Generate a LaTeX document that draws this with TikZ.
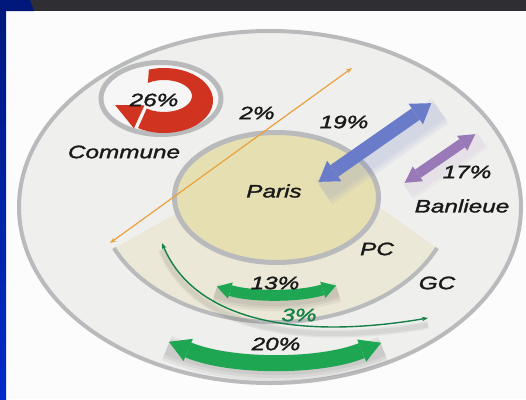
\documentclass[tikz,border=0pt]{standalone}
\usepackage{fontspec}
\newfontfamily\diagfont{Liberation Sans}[FakeStretch=1.35, FakeBold=1.6]
\usetikzlibrary{arrows.meta,calc}

\definecolor{pageWhite}{HTML}{FCFCFC}
\definecolor{barGray}{HTML}{2E2E33}
\definecolor{navyTop}{HTML}{00187C}
\definecolor{blueBot}{HTML}{002BCB}
\definecolor{zoneGray}{HTML}{EFEFED}
\definecolor{ringGray}{HTML}{B9BABB}
\definecolor{parisFill}{HTML}{E6DFB2}
\definecolor{pcBeige}{HTML}{EBE8D7}
\definecolor{communeFill}{HTML}{F6F6F6}
\definecolor{communeRed}{HTML}{D0331F}
\definecolor{arrowBlue}{HTML}{6A7BC9}
\definecolor{arrowPurple}{HTML}{9A79B8}
\definecolor{arrowGreen}{HTML}{1FA652}
\definecolor{darkGreen}{HTML}{178048}
\definecolor{orangeLine}{HTML}{E9A23B}

\tikzset{
  pct/.style={font=\diagfont\itshape\fontsize{18}{18}\selectfont, inner sep=0pt, text=black!90},
  ring/.style={draw=ringGray, line width=4pt},
  fatarrow/.style n args={4}{draw=#1, line width=#2,
    arrows={Triangle[width=#3,length=#4,line width=0pt,sep=2pt]-Triangle[width=#3,length=#4,line width=0pt,sep=2pt]}},
  thinarrow/.style={line width=1.4pt,
    arrows={Stealth[length=6pt,width=4.5pt]-Stealth[length=6pt,width=4.5pt]}},
  softshadow/.style={draw=black, opacity=0.05, transform canvas={yshift=-7pt}}
}

\begin{document}
\begin{tikzpicture}[x=1pt, y=-1pt, line join=round]
  \useasboundingbox (0,0) rectangle (526,399);
  % slide frame
  \fill[pageWhite] (0,0) rectangle (526,399);
  \fill[barGray] (0,0) rectangle (526,11);
  \shade[top color=navyTop, bottom color=blueBot] (0,0) rectangle (6,399);
  \fill[navyTop] (0,0) -- (30,0) -- (34,11) -- (0,11) -- cycle;

  % zones
  \draw[ring, fill=zoneGray] (270,207) ellipse [x radius=251, y radius=176];
  \fill[pcBeige] (115,248) -- (200,200) -- (355,190) -- (437,248)
     arc[start angle=23.9, end angle=156.1, x radius=176.7, y radius=124.5] -- cycle;
  \draw[ring] (437,248) arc[start angle=23.9, end angle=156.1, x radius=176.7, y radius=124.5];
  \draw[ring, line width=5pt, fill=parisFill] (276.5,197.5) ellipse [x radius=102, y radius=65];
  \draw[ring, line width=5pt, fill=communeFill] (161,98.5) ellipse [x radius=60, y radius=36];

  % circular arrow of the commune
  \coordinate (donut) at (164,100.5);
  \coordinate (hole) at (164,96);
  \fill[communeRed] ($(donut)+(-108:49 and 32.5)$)
     arc[start angle=-108, end angle=122, x radius=49, y radius=32.5]
     -- ($(hole)+(128:28 and 16)$)
     arc[start angle=128, end angle=-125, x radius=28, y radius=16] -- cycle;
  \fill[communeRed] (115,105) -- (144.4,105.4) -- (133.9,128.3) -- cycle;

  % flows
  \coordinate (orA) at (110,243);
  \coordinate (orB) at (352,68);
  \draw[thinarrow, draw=orangeLine, line width=1.2pt] (orA) -- (orB);

  \coordinate (blueA) at (317,183);
  \coordinate (blueB) at (433,102);
  \foreach \w in {30,24,18}
    \draw[draw=arrowBlue, opacity=0.07, line width=\w pt, transform canvas={shift={(7pt,-9pt)}}] (blueA) -- (blueB);
  \draw[fatarrow={arrowBlue}{14pt}{25pt}{19pt}] (blueA) -- (blueB);

  \coordinate (purA) at (403,184);
  \coordinate (purB) at (477,133);
  \foreach \w in {20,14}
    \draw[draw=arrowPurple, opacity=0.06, line width=\w pt, transform canvas={shift={(5pt,-7pt)}}] (purA) -- (purB);
  \draw[fatarrow={arrowPurple}{10pt}{18pt}{16pt}] (purA) -- (purB);

  \coordinate (gA) at (215,286);
  \coordinate (gB) at (338,285);
  \foreach \w in {20,15,10}
    \draw[softshadow, line width=\w pt] (gA) .. controls (252,297) and (300,297) .. (gB);
  \draw[fatarrow={arrowGreen}{11pt}{17pt}{14pt}] (gA) .. controls (252,297) and (300,297) .. (gB);

  \coordinate (hA) at (167,341);
  \coordinate (hB) at (383,342);
  \foreach \w in {26,20,14}
    \draw[softshadow, line width=\w pt] (hA) .. controls (230,367.5) and (320,367.5) .. (hB);
  \draw[fatarrow={arrowGreen}{16pt}{24pt}{21pt}] (hA) .. controls (230,367.5) and (320,367.5) .. (hB);

  \coordinate (tA) at (162,243);
  \coordinate (tB) at (428,318);
  \foreach \w in {8,5}
    \draw[softshadow, line width=\w pt] (tA) .. controls (195,322) and (300,340) .. (tB);
  \draw[thinarrow, draw=darkGreen] (tA) .. controls (195,322) and (300,340) .. (tB);

  % labels
  \node[pct] (l26) at (154,100) {26\%};
  \node[pct] (lcommune) at (124,152) {Commune};
  \node[pct] (l2) at (257,113) {2\%};
  \node[pct] (l19) at (344,122) {19\%};
  \node[pct] (lparis) at (274,191) {Paris};
  \node[pct] (l17) at (467,172) {17\%};
  \node[pct] (lbanlieue) at (462,206) {Banlieue};
  \node[pct] (lpc) at (377,249) {PC};
  \node[pct] (lgc) at (437,283) {GC};
  \node[pct] (l13) at (275,283) {13\%};
  \node[pct, text=darkGreen] (l3) at (299,315) {3\%};
  \node[pct] (l20) at (276,344) {20\%};
\end{tikzpicture}
\end{document}
